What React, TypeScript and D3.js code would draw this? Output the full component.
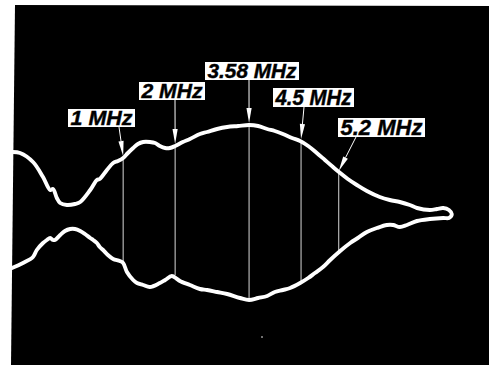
import React from "react";
import * as d3 from "d3";

// Sweep position (% of screen width) and envelope amplitude (arbitrary units, 0 = trace centre)
const upperPos = [0.0, 1.7, 4.4, 6.5, 8.0, 8.6, 9.4, 10.1, 11.5, 13.2, 14.3, 16.4, 17.8, 18.4, 19.9, 21.2, 22.2, 23.3, 24.3, 25.4, 26.4, 27.5, 28.9, 30.0, 31.0, 32.1, 33.1, 34.2, 35.8, 37.3, 39.4, 40.9, 43.0, 45.1, 47.4, 49.7, 51.6, 53.5, 55.1, 56.8, 58.7, 60.4, 62.1, 63.9, 65.6, 67.3, 68.8, 70.4, 72.3, 74.4, 77.1, 79.2, 81.3, 83.4, 84.9, 87.6, 89.1, 90.4, 91.6, 92.2];
const upperAmp = [59, 58, 49, 34, 21, 22, 13, 8, 6, 7, 9, 21, 31, 32, 41, 48, 50, 53, 58, 63, 67, 69, 69, 68, 65, 63, 63, 65, 69, 72, 77, 79, 82, 84, 85, 86, 85, 82, 80, 77, 73, 70, 65, 58, 51, 44, 38, 32, 26, 20, 14, 11, 9, 6, 3, 1, 2, 3, 1, -3];
// lower envelope, traced from the right-hand tip back to the left
const lowerPos = [91.6, 90.4, 87.6, 84.9, 82.8, 81.3, 79.9, 78.6, 76.5, 74.4, 72.5, 70.9, 68.8, 66.7, 65.2, 63.5, 62.1, 60.4, 58.3, 56.8, 55.1, 53.5, 51.6, 49.7, 47.8, 45.1, 43.0, 40.9, 39.4, 37.3, 35.2, 34.6, 33.5, 32.1, 31.0, 28.9, 27.5, 26.2, 25.4, 24.1, 23.3, 22.6, 21.2, 20.1, 19.1, 18.4, 17.8, 17.0, 16.4, 15.3, 14.3, 13.2, 12.2, 11.1, 10.1, 9.0, 8.6, 8.0, 7.3, 6.5, 5.2, 4.4, 2.3, 0.0];
const lowerAmp = [-7, -7, -8, -10, -14, -16, -14, -14, -17, -21, -27, -32, -40, -49, -56, -62, -67, -72, -77, -79, -81, -85, -87, -89, -87, -83, -81, -79, -78, -74, -70, -68, -65, -69, -72, -76, -74, -72, -69, -61, -52, -50, -48, -44, -39, -36, -32, -29, -27, -23, -20, -18, -18, -20, -24, -29, -29, -27, -29, -32, -39, -46, -52, -57];

// Frequency markers
const markerLabels = ["1 MHz", "2 MHz", "3.58 MHz", "4.5 MHz", "5.2 MHz"];
const markerPos = [23.3, 34.2, 49.7, 60.6, 68.5];
const markerUpper = [53, 65, 86, 70, 38];
const markerLower = [-51, -64, -89, -72, -41];

const W = 489;
const H = 365;

// label box layout (x0, x1, y0, y1, arrow start x)
const labelBoxes = [
  [68, 135, 109, 127, 119],
  [139, 205, 82, 100, 175],
  [205, 299, 62, 80, 249],
  [273, 354, 88, 107, 304],
  [338, 425, 118, 137, 356],
];

export default function App() {
  const x = d3.scaleLinear().domain([0, 100]).range([12, 489]);
  const y = d3.scaleLinear().domain([-100, 100]).range([311, 111]);

  const pts: [number, number][] = [];
  upperPos.forEach((p, i) => pts.push([x(p), y(upperAmp[i])]));
  lowerPos.forEach((p, i) => pts.push([x(p), y(lowerAmp[i])]));
  const trace = d3.line().curve(d3.curveCatmullRom.alpha(0.5))(pts) || "";

  return (
    <svg
      width={W}
      height={H}
      style={{ position: "absolute", left: 0, top: 0, background: "#fff" }}
    >
      <polygon points={`15,5 489,6 489,365 11,365`} fill="#000" />
      {markerPos.map((p, i) => (
        <line
          key={"v" + i}
          x1={x(p)}
          x2={x(p)}
          y1={y(markerUpper[i])}
          y2={y(markerLower[i])}
          stroke="#d8d8d8"
          strokeWidth={1}
        />
      ))}
      <path
        d={trace}
        fill="none"
        stroke="#fff"
        strokeWidth={3.9}
        strokeLinejoin="round"
        strokeLinecap="round"
      />
      {markerLabels.map((lab, i) => {
        const [x0, x1, y0, y1, ax] = labelBoxes[i];
        const tx = x(markerPos[i]);
        const ty = y(markerUpper[i]) - 2;
        const dx = tx - ax;
        const dy = ty - y1;
        const len = Math.sqrt(dx * dx + dy * dy);
        const ux = dx / len;
        const uy = dy / len;
        const hl = 15;
        const hw = 2.6;
        const bx = tx - ux * hl;
        const by = ty - uy * hl;
        const head = `${tx},${ty} ${bx - uy * hw},${by + ux * hw} ${bx + uy * hw},${by - ux * hw}`;
        const bh = y1 - y0;
        return (
          <g key={"m" + i}>
            <line x1={ax} y1={y1} x2={bx} y2={by} stroke="#fff" strokeWidth={1} />
            <polygon points={head} fill="#fff" />
            <rect x={x0} y={y0} width={x1 - x0} height={bh} fill="#fff" />
            <text
              x={(x0 + x1) / 2}
              y={y1 - bh * 0.1}
              textAnchor="middle"
              fontFamily="'Liberation Sans', Arial, sans-serif"
              fontWeight="bold"
              fontStyle="italic"
              fontSize={bh * 1.12}
              fill="#000"
              stroke="#000"
              strokeWidth={0.4}
              textLength={x1 - x0 - 5}
              lengthAdjust="spacingAndGlyphs"
            >
              {lab}
            </text>
          </g>
        );
      })}
      <circle cx={262} cy={337} r={0.8} fill="#fff" />
    </svg>
  );
}
